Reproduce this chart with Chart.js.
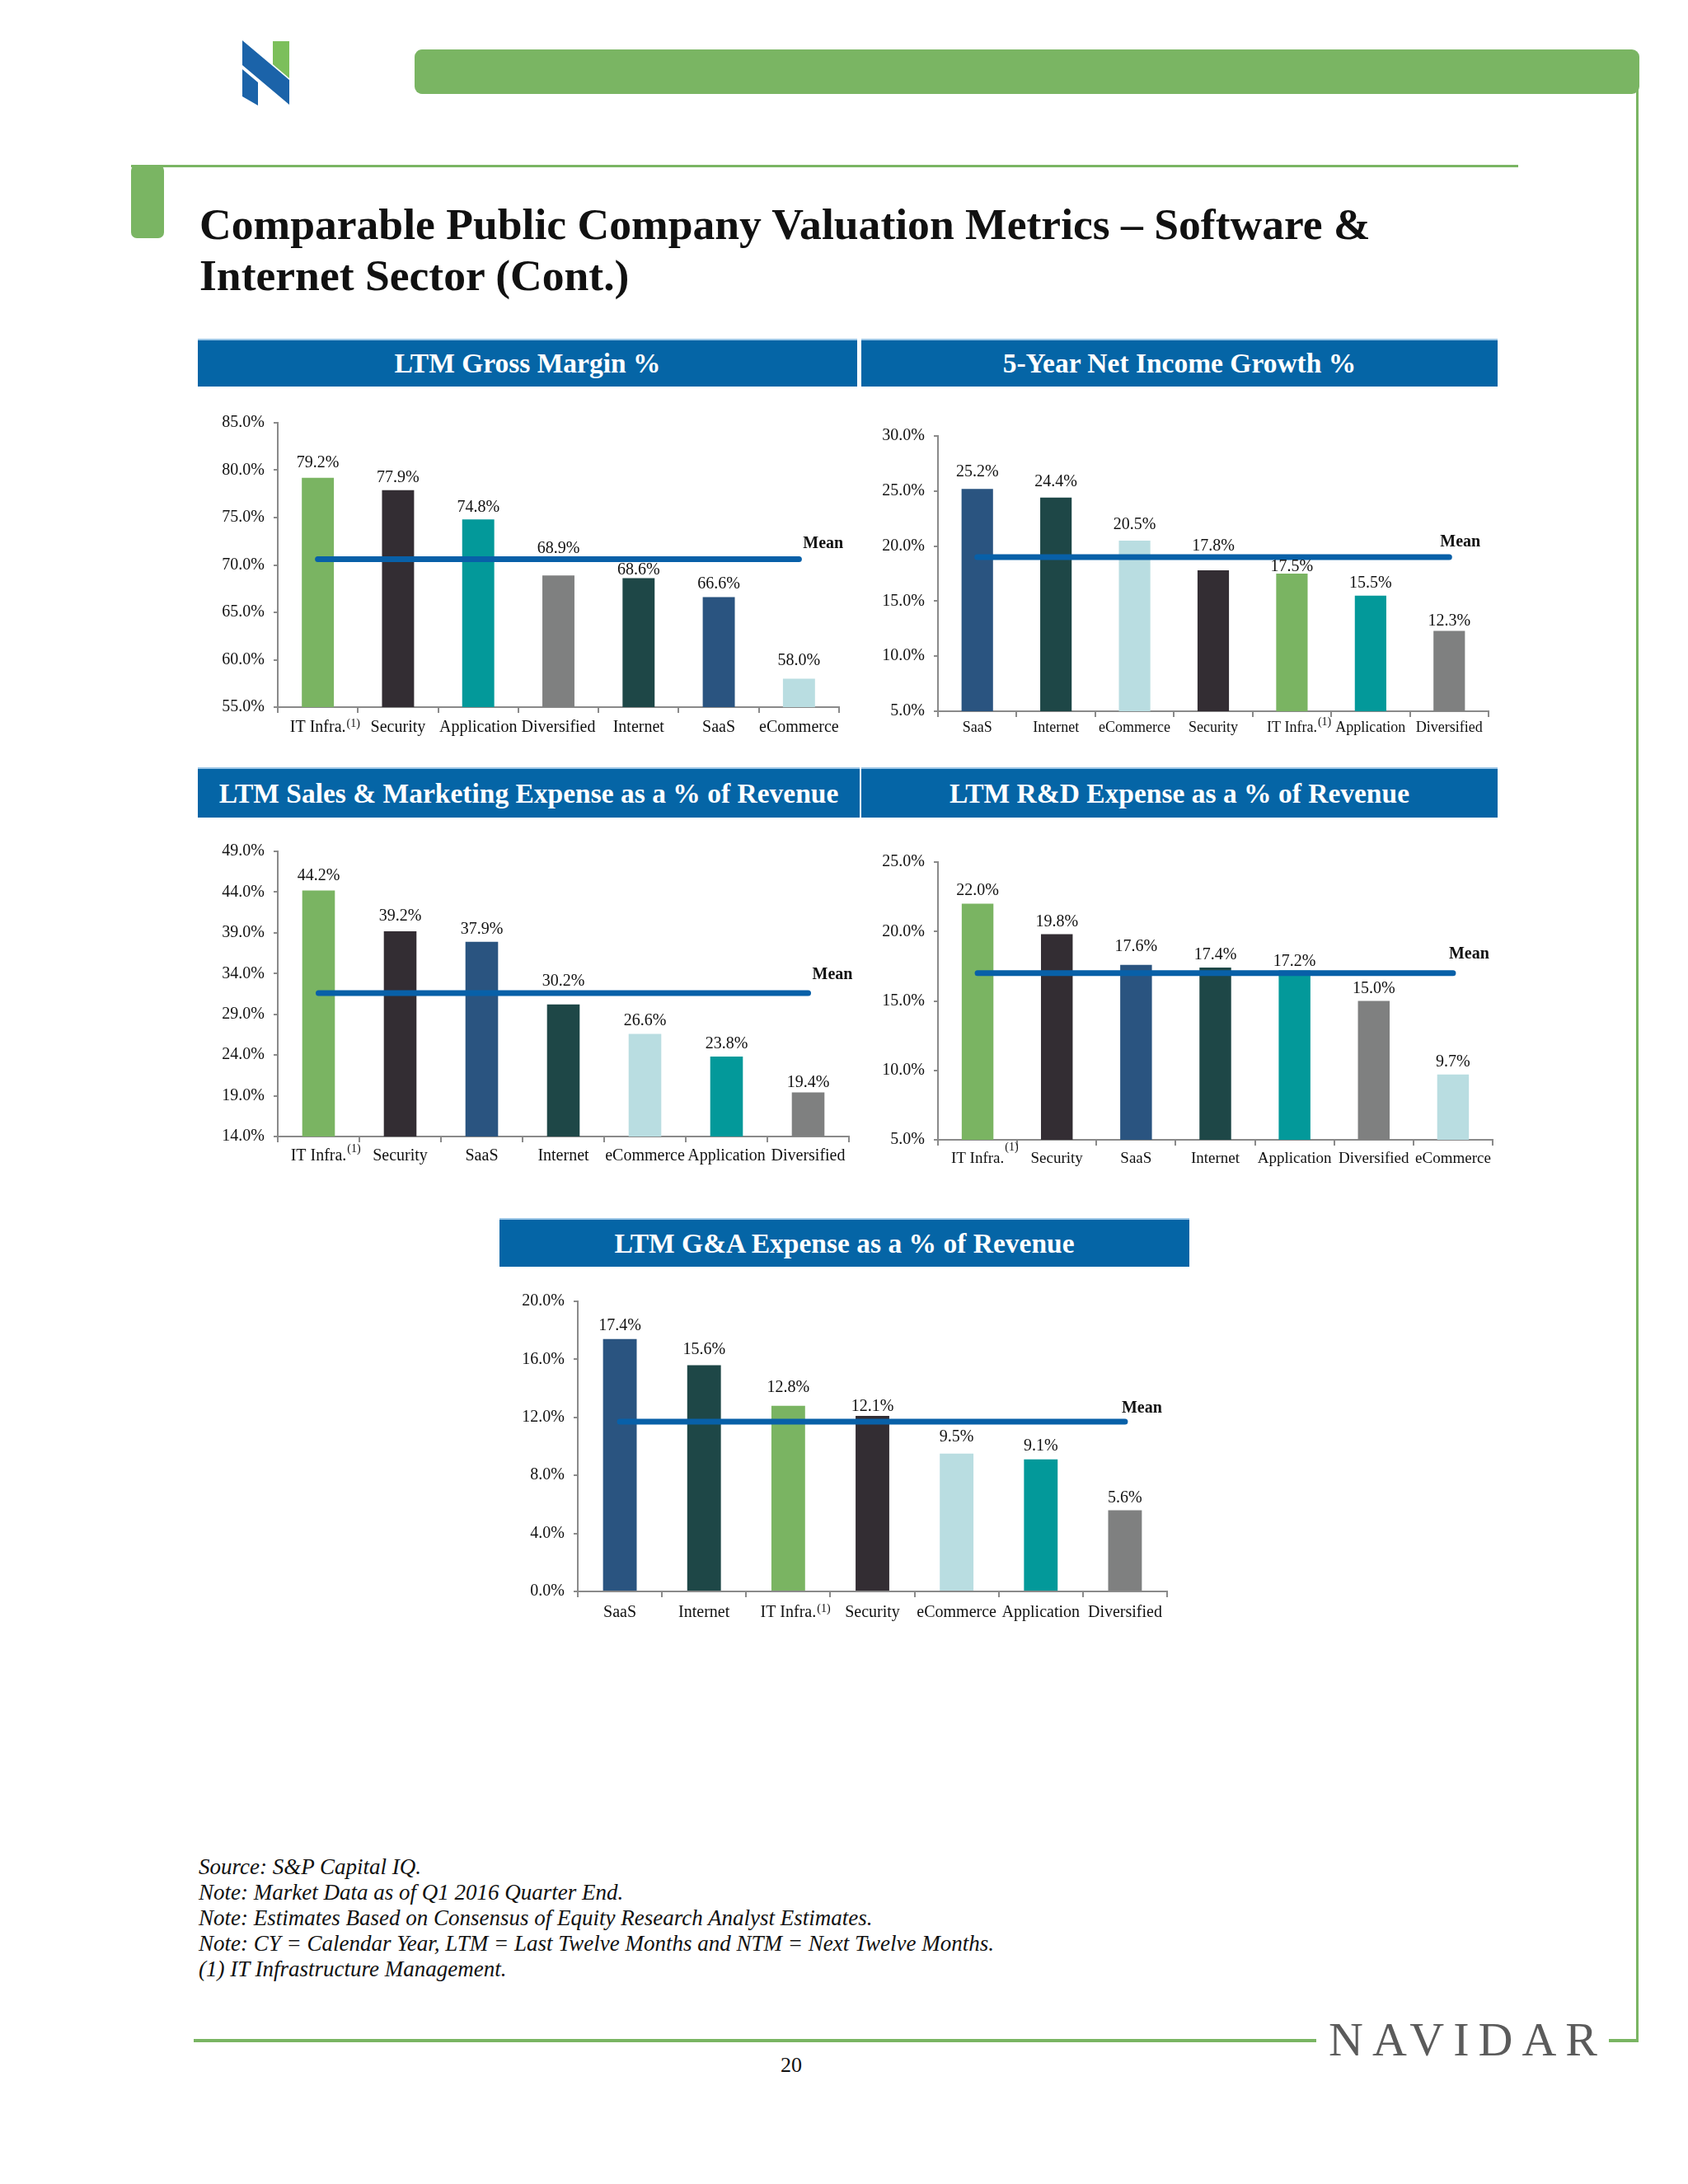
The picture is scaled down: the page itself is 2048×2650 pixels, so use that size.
<!DOCTYPE html>
<html>
<head>
<meta charset="utf-8">
<title>Comparable Public Company Valuation Metrics</title>
<script src="https://cdn.jsdelivr.net/npm/chart.js@4.4.1/dist/chart.umd.min.js"></script>
<style>
  body { margin: 0; background: #fff; }
  #page { position: relative; width: 2048px; height: 2650px; overflow: hidden; background: #fff;
          font-family: "Liberation Serif", "Times New Roman", serif; color: #111; }
  .abs { position: absolute; }
  .green { background: #7ab563; }
  .hdr { position: absolute; background: #0565a6; color: #fff; font-weight: bold; font-size: 33.5px;
         display: flex; align-items: center; justify-content: center; white-space: nowrap;
         border-top: 2px solid #9cc6e6; box-sizing: border-box; }
  #title { left: 242px; top: 241px; font-size: 53.6px; font-weight: bold; line-height: 62px; white-space: nowrap; }
  #notes { left: 241px; top: 2250px; font-size: 27px; font-style: italic; line-height: 31px; white-space: nowrap; }
  #navidar { left: 1612px; top: 2440px; font-size: 58px; letter-spacing: 11px; color: #5b5b5b; line-height: 70px; }
  #pageno { left: 930px; top: 2490px; width: 60px; text-align: center; font-size: 26px; line-height: 32px; }
  canvas { position: absolute; }
</style>
</head>
<body>
<div id="page">
  <!-- logo -->
  <svg class="abs" style="left:0;top:0" width="400" height="150">
    <polygon points="294,49 351,97 351,127 294,79" fill="#1b63a9"/>
    <polygon points="294,84 313,100 313,128 294,117" fill="#1b63a9"/>
    <polygon points="331,50 351,50 351,95 331,78" fill="#7cbf5b"/>
  </svg>
  <!-- page frame -->
  <div class="abs green" style="left:503px;top:60px;width:1486px;height:54px;border-radius:9px"></div>
  <div class="abs green" style="left:1985px;top:100px;width:3px;height:2378px"></div>
  <div class="abs green" style="left:159px;top:200px;width:1683px;height:3px"></div>
  <div class="abs green" style="left:159px;top:200px;width:40px;height:89px;border-radius:7px"></div>
  <div class="abs green" style="left:235px;top:2474px;width:1362px;height:4px"></div>
  <div class="abs green" style="left:1952px;top:2474px;width:36px;height:4px"></div>

  <div id="title" class="abs">Comparable Public Company Valuation Metrics – Software &amp;<br>Internet Sector (Cont.)</div>

  <div class="hdr" style="left:240px;top:411px;width:800px;height:58px">LTM Gross Margin %</div>
  <div class="hdr" style="left:1045px;top:411px;width:772px;height:58px">5-Year Net Income Growth %</div>
  <div class="hdr" style="left:240px;top:931px;width:803px;height:61px">LTM Sales &amp; Marketing Expense as a % of Revenue</div>
  <div class="hdr" style="left:1045px;top:931px;width:772px;height:61px">LTM R&amp;D Expense as a % of Revenue</div>
  <div class="hdr" style="left:606px;top:1478px;width:837px;height:59px">LTM G&amp;A Expense as a % of Revenue</div>

  <div id="notes" class="abs">Source: S&amp;P Capital IQ.<br>Note: Market Data as of Q1 2016 Quarter End.<br>Note: Estimates Based on Consensus of Equity Research Analyst Estimates.<br>Note: CY = Calendar Year, LTM = Last Twelve Months and NTM = Next Twelve Months.<br>(1) IT Infrastructure Management.</div>
  <div id="navidar" class="abs">NAVIDAR</div>
  <div id="pageno" class="abs">20</div>
</div>

<script>
// ---- data -------------------------------------------------------------
const gmCategories = ["IT Infra.", "Security", "Application", "Diversified", "Internet", "SaaS", "eCommerce"];
const gmValues     = [79.2, 77.9, 74.8, 68.9, 68.6, 66.6, 58.0];
const gmMean       = 70.6;
const gmTicks      = [55, 85, 5];

const niCategories = ["SaaS", "Internet", "eCommerce", "Security", "IT Infra.", "Application", "Diversified"];
const niValues     = [25.2, 24.4, 20.5, 17.8, 17.5, 15.5, 12.3];
const niMean       = 19.0;
const niTicks      = [5, 30, 5];

const smCategories = ["IT Infra.", "Security", "SaaS", "Internet", "eCommerce", "Application", "Diversified"];
const smValues     = [44.2, 39.2, 37.9, 30.2, 26.6, 23.8, 19.4];
const smMean       = 31.6;
const smTicks      = [14, 49, 5];

const rdCategories = ["IT Infra.", "Security", "SaaS", "Internet", "Application", "Diversified", "eCommerce"];
const rdValues     = [22.0, 19.8, 17.6, 17.4, 17.2, 15.0, 9.7];
const rdMean       = 17.0;
const rdTicks      = [5, 25, 5];

const gaCategories = ["SaaS", "Internet", "IT Infra.", "Security", "eCommerce", "Application", "Diversified"];
const gaValues     = [17.4, 15.6, 12.8, 12.1, 9.5, 9.1, 5.6];
const gaMean       = 11.7;
const gaTicks      = [0, 20, 4];

const NOTE_CATEGORY = "IT Infra.";   // gets the (1) footnote mark

// ---- styling ---------------------------------------------------------
const SECTOR_COLORS = {
  "IT Infra.": "#7ab462", "Security": "#332d33", "Application": "#03999a", "Diversified": "#7f8080",
  "Internet": "#1e4747", "SaaS": "#2a5480", "eCommerce": "#b9dde1",
};
const MEAN_COLOR = "#0860a8";
const AXIS_COLOR = "#8a8a8a";
const TEXT_COLOR = "#111";
const FONT = "'Liberation Serif', 'Times New Roman', serif";

Chart.defaults.font.family = FONT;

// value label lift above bar top (px), mostly to dodge the mean line like the original
const LAYOUTS = {
  gm: { rect: { l: 337, t: 513, r: 1018, b: 858 },  catFont: 20, catPad: 6, lift: [18, 15, 15, 32, 10, 16, 22], meanDx: 5,   meanDy: 19, supRaise: 5 },
  ni: { rect: { l: 1138, t: 529, r: 1806, b: 863 }, catFont: 18, catPad: 2, lift: [20, 19, 19, 29, 8, 15, 12],  meanDx: -11, meanDy: 18, supRaise: 6 },
  sm: { rect: { l: 337, t: 1033, r: 1030, b: 1379 }, catFont: 20, catPad: 5, lift: [18, 18, 15, 28, 16, 15, 12], meanDx: 5,   meanDy: 22, supRaise: 9 },
  rd: { rect: { l: 1138, t: 1046, r: 1811, b: 1383 }, catFont: 19, catPad: 5, lift: [16, 15, 22, 15, 11, 15, 15], meanDx: -5, meanDy: 23, supRaise: 14 },
  ga: { rect: { l: 701, t: 1579, r: 1416, b: 1931 }, catFont: 20, catPad: 7, lift: [16, 19, 22, 11, 20, 16, 15], meanDx: -4,  meanDy: 16, supRaise: 5 },
};

const ML = 110, MT = 40, MR = 70, MB = 70;

// value labels, "Mean" tag and the (1) superscript
const pageLabels = {
  id: "pageLabels",
  afterDatasetsDraw(chart, args, o) {
    const ctx = chart.ctx;
    ctx.save();
    ctx.fillStyle = TEXT_COLOR;
    ctx.textBaseline = "middle";

    ctx.font = "20px " + FONT;
    ctx.textAlign = "center";
    chart.getDatasetMeta(0).data.forEach((bar, i) => {
      const v = chart.data.datasets[0].data[i];
      ctx.fillText(v.toFixed(1) + "%", bar.x, bar.y - o.lift[i]);
    });

    const pts = chart.getDatasetMeta(1).data;
    const last = pts[pts.length - 1];
    ctx.font = "bold 20px " + FONT;
    ctx.textAlign = "left";
    ctx.fillText("Mean", last.x + o.meanDx, last.y - o.meanDy);

    const xs = chart.scales.x;
    const idx = chart.data.labels.indexOf(NOTE_CATEGORY);
    if (idx >= 0) {
      ctx.font = o.catFont + "px " + FONT;
      const w = ctx.measureText(chart.data.labels[idx]).width;
      const cx = xs.getPixelForValue(idx);
      const cy = chart.chartArea.bottom + 7 + o.catPad + o.catFont * 0.6;
      ctx.font = "14px " + FONT;
      ctx.fillText("(1)", cx + w / 2 + 1, cy - o.supRaise);
    }
    ctx.restore();
  }
};

function buildChart(categories, values, mean, ticks, lay) {
  const r = lay.rect;
  const w = r.r - r.l + ML + MR, h = r.b - r.t + MT + MB;
  const cv = document.createElement("canvas");
  cv.width = w; cv.height = h;
  cv.style.left = (r.l - ML) + "px";
  cv.style.top = (r.t - MT) + "px";
  cv.style.width = w + "px";
  cv.style.height = h + "px";
  document.getElementById("page").appendChild(cv);

  return new Chart(cv, {
    type: "bar",
    data: {
      labels: categories,
      datasets: [
        { type: "bar", data: values, backgroundColor: categories.map(c => SECTOR_COLORS[c]),
          barPercentage: 0.4, categoryPercentage: 1, order: 2 },
        { type: "line", data: categories.map(() => mean), borderColor: MEAN_COLOR, borderWidth: 7,
          borderCapStyle: "round", pointRadius: 0, fill: false, tension: 0, order: 1 },
      ],
    },
    options: {
      responsive: false, animation: false, devicePixelRatio: 1,
      layout: { padding: { top: MT, right: MR, left: 0, bottom: 0 } },
      plugins: {
        legend: { display: false }, tooltip: { enabled: false },
        pageLabels: { lift: lay.lift, meanDx: lay.meanDx, meanDy: lay.meanDy, supRaise: lay.supRaise,
                      catFont: lay.catFont, catPad: lay.catPad },
      },
      scales: {
        x: {
          grid: { offset: true, drawOnChartArea: false, drawTicks: true, tickLength: 7, color: AXIS_COLOR, lineWidth: 2 },
          border: { display: true, color: AXIS_COLOR, width: 2 },
          ticks: { font: { size: lay.catFont }, color: TEXT_COLOR, padding: lay.catPad, autoSkip: false, maxRotation: 0, minRotation: 0 },
          afterFit: s => { s.height = MB; },
        },
        y: {
          min: ticks[0], max: ticks[1],
          grid: { drawOnChartArea: false, drawTicks: true, tickLength: 5, color: AXIS_COLOR, lineWidth: 2 },
          border: { display: true, color: AXIS_COLOR, width: 2 },
          ticks: { stepSize: ticks[2], font: { size: 20 }, color: TEXT_COLOR, padding: 11,
                   callback: v => Number(v).toFixed(1) + "%" },
          afterFit: s => { s.width = ML; },
        },
      },
    },
    plugins: [pageLabels],
  });
}

buildChart(gmCategories, gmValues, gmMean, gmTicks, LAYOUTS.gm);
buildChart(niCategories, niValues, niMean, niTicks, LAYOUTS.ni);
buildChart(smCategories, smValues, smMean, smTicks, LAYOUTS.sm);
buildChart(rdCategories, rdValues, rdMean, rdTicks, LAYOUTS.rd);
buildChart(gaCategories, gaValues, gaMean, gaTicks, LAYOUTS.ga);
</script>
</body>
</html>
